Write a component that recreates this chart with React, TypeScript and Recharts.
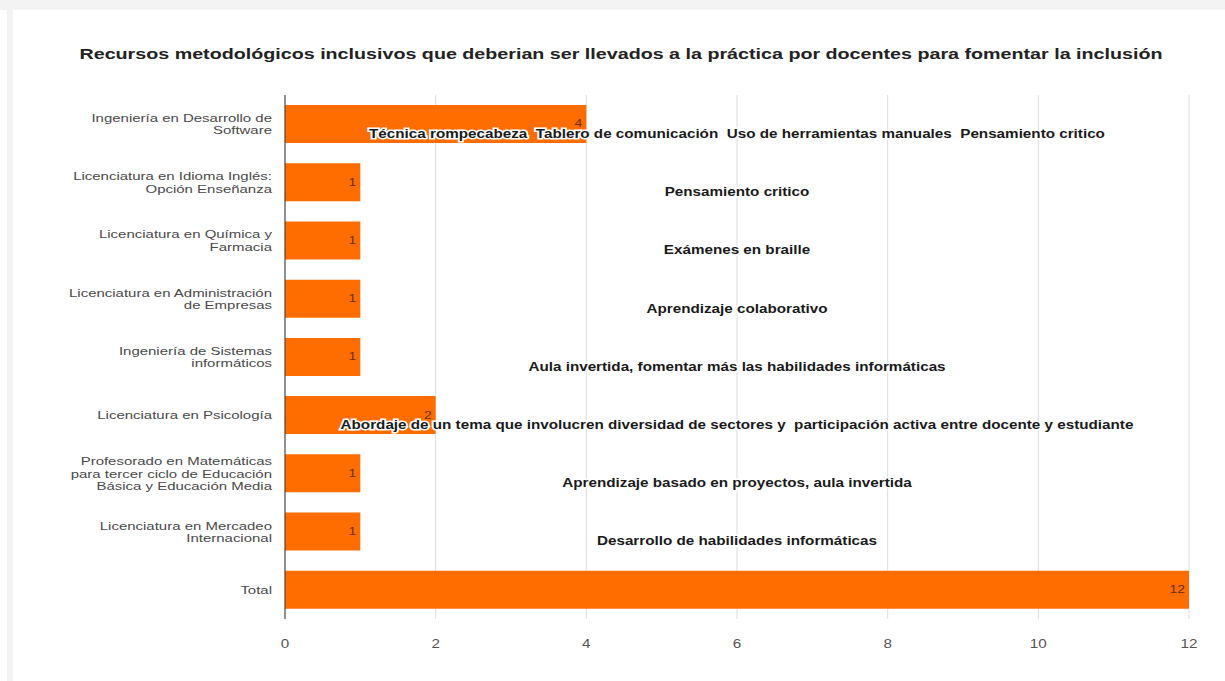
import React from "react";
import { BarChart, Bar, XAxis, YAxis, CartesianGrid, LabelList } from "recharts";

const TITLE =
  "Recursos metodológicos inclusivos que deberian ser llevados a la práctica por docentes para fomentar la inclusión";

const categories: string[][] = [
  ["Ingeniería en Desarrollo de", "Software"],
  ["Licenciatura en Idioma Inglés:", "Opción Enseñanza"],
  ["Licenciatura en Química y", "Farmacia"],
  ["Licenciatura en Administración", "de Empresas"],
  ["Ingeniería de Sistemas", "informáticos"],
  ["Licenciatura en Psicología"],
  ["Profesorado en Matemáticas", "para tercer ciclo de Educación", "Básica y Educación Media"],
  ["Licenciatura en Mercadeo", "Internacional"],
  ["Total"],
];

const values: number[] = [4, 1, 1, 1, 1, 2, 1, 1, 12];

const notes: string[] = [
  "Técnica rompecabeza  Tablero de comunicación  Uso de herramientas manuales  Pensamiento critico",
  "Pensamiento critico",
  "Exámenes en braille",
  "Aprendizaje colaborativo",
  "Aula invertida, fomentar más las habilidades informáticas",
  "Abordaje de un tema que involucren diversidad de sectores y  participación activa entre docente y estudiante",
  "Aprendizaje basado en proyectos, aula invertida",
  "Desarrollo de habilidades informáticas",
  "",
];

const xTicks: number[] = [0, 2, 4, 6, 8, 10, 12];
const X_MAX = 12;

const data = categories.map((c, i) => ({
  key: String(i),
  value: values[i],
  note: notes[i],
}));

const FONT = "'Liberation Sans', Arial, sans-serif";
const SX = 1.27;
const stretch = (x: number) => `matrix(${SX},0,0,1,${(1 - SX) * x},0)`;

const CategoryTick = (props: any) => {
  const { x, y, payload } = props;
  const lines: string[] = categories[Number(payload.value)] || [];
  const lh = 12.5;
  const start = -((lines.length - 1) * lh) / 2;
  return (
    <text
      x={x}
      y={y}
      textAnchor="end"
      fontSize={11.8}
      fill="#4a4a4a"
      fontFamily={FONT}
      transform={stretch(x)}
    >
      {lines.map((l, i) => (
        <tspan key={i} x={x} y={y + start + i * lh} dy="0.35em">
          {l}
        </tspan>
      ))}
    </text>
  );
};

const XTick = (props: any) => {
  const { x, y, payload } = props;
  return (
    <text
      x={x}
      y={y}
      dy="0.71em"
      textAnchor="middle"
      fontSize={12}
      fill="#555"
      fontFamily={FONT}
      transform={stretch(x)}
    >
      {payload.value}
    </text>
  );
};

const NoteLabel = (props: any) => {
  const { x, y, width, height, index } = props;
  const note = notes[index];
  const v = values[index];
  if (!note || !v) return null;
  const cx = x + (width * (X_MAX / 2)) / v;
  const cy = y + height / 2 + 10;
  return (
    <text
      x={cx}
      y={cy}
      textAnchor="middle"
      dominantBaseline="central"
      fontSize={12}
      fontWeight="bold"
      fill="#1a1a1a"
      stroke="#fff"
      strokeWidth={3}
      paintOrder="stroke"
      fontFamily={FONT}
      transform={stretch(cx)}
      style={{ whiteSpace: "pre" }}
    >
      {note}
    </text>
  );
};

const ValueLabel = (props: any) => {
  const { x, y, width, height, value } = props;
  const ax = x + width - 4;
  return (
    <text
      x={ax}
      y={y + height / 2}
      textAnchor="end"
      dominantBaseline="central"
      fontSize={11}
      fill="#6a3000"
      fontFamily={FONT}
      transform={stretch(ax)}
    >
      {value}
    </text>
  );
};

export default function App() {
  return (
    <div
      style={{
        position: "absolute",
        left: 0,
        top: 0,
        width: 1225,
        height: 681,
        background: "#fff",
        overflow: "hidden",
      }}
    >
      <div style={{ position: "absolute", left: 0, top: 0, width: 1225, height: 10, background: "#f3f3f3" }} />
      <div style={{ position: "absolute", left: 7, top: 0, width: 6, height: 681, background: "#f3f3f3" }} />
      <div
        style={{
          position: "absolute",
          left: 0,
          top: 45,
          width: 1242,
          textAlign: "center",
          fontFamily: FONT,
          fontWeight: "bold",
          fontSize: 15.5,
          color: "#222",
          transform: `scaleX(${SX})`,
          transformOrigin: "621px 0",
          whiteSpace: "nowrap",
        }}
      >
        {TITLE}
      </div>
      <div style={{ position: "absolute", left: 0, top: 0 }}>
        <BarChart
          width={1225}
          height={681}
          data={data}
          layout="vertical"
          margin={{ top: 95, right: 36, bottom: 32, left: 10 }}
          barSize={38}
        >
          <CartesianGrid horizontal={false} stroke="#dddddd" />
          <XAxis
            type="number"
            domain={[0, X_MAX]}
            ticks={xTicks}
            axisLine={false}
            tickLine={false}
            tickMargin={14}
            tick={<XTick />}
            interval={0}
          />
          <YAxis
            type="category"
            dataKey="key"
            width={275}
            axisLine={{ stroke: "#333", strokeWidth: 1 }}
            tickLine={false}
            tick={<CategoryTick />}
            interval={0}
            tickMargin={7}
          />
          <Bar dataKey="value" fill="#ff6d01" isAnimationActive={false}>
            <LabelList dataKey="value" content={<ValueLabel />} />
            <LabelList dataKey="note" content={<NoteLabel />} />
          </Bar>
        </BarChart>
      </div>
    </div>
  );
}
